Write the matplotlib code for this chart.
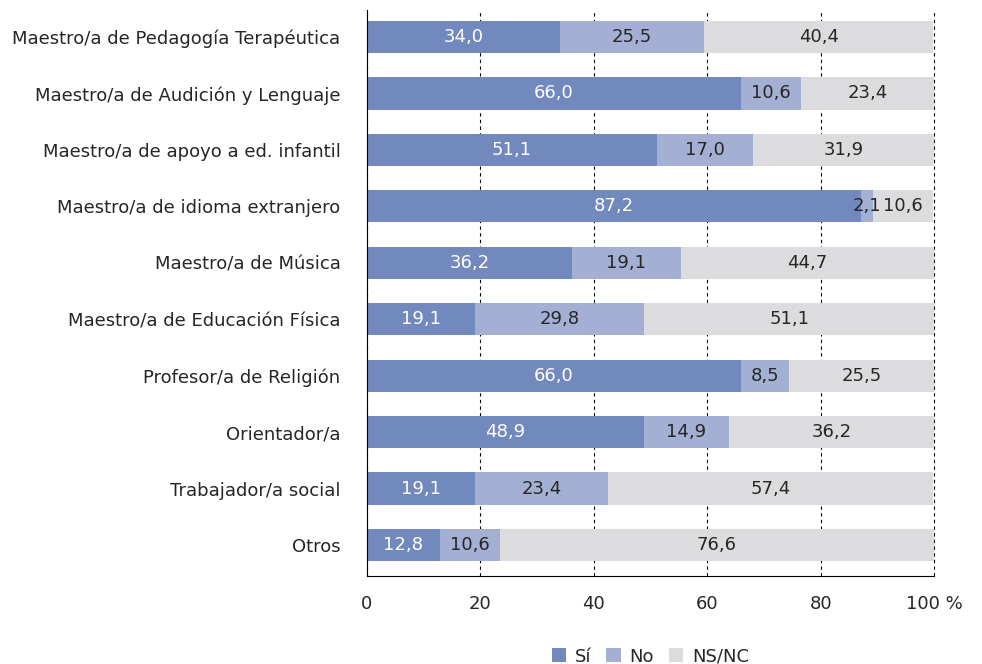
import matplotlib.pyplot as plt
import numpy as np

categories = ['Maestro/a de Pedagogía Terapéutica', 'Maestro/a de Audición y Lenguaje',
              'Maestro/a de apoyo a ed. infantil', 'Maestro/a de idioma extranjero',
              'Maestro/a de Música', 'Maestro/a de Educación Física', 'Profesor/a de Religión',
              'Orientador/a', 'Trabajador/a social', 'Otros']
si = [34.0, 66.0, 51.1, 87.2, 36.2, 19.1, 66.0, 48.9, 19.1, 12.8]
no = [25.5, 10.6, 17.0, 2.1, 19.1, 29.8, 8.5, 14.9, 23.4, 10.6]
nsnc = [40.4, 23.4, 31.9, 10.6, 44.7, 51.1, 25.5, 36.2, 57.4, 76.6]
series_names = ['Sí', 'No', 'NS/NC']
xticks = [0, 20, 40, 60, 80, 100]
xtick_labels = ['0', '20', '40', '60', '80', '100 %']

colors = ['#7189bd', '#a3b0d3', '#dcdcde']
text_colors = ['white', '#262626', '#262626']

fig = plt.figure(figsize=(9.82, 6.64), dpi=100)
ax = fig.add_axes([0.3737, 0.1325, 0.5774, 0.8525])

y = np.arange(len(categories))
left = np.zeros(len(categories))
for vals, name, c, tc in zip([si, no, nsnc], series_names, colors, text_colors):
    vals = np.array(vals)
    ax.barh(y, vals, left=left, height=0.57, color=c, label=name, zorder=2)
    for yi, l, v in zip(y, left, vals):
        txt = f'{v:.1f}'.replace('.', ',')
        ax.text(l + v / 2, yi, txt, ha='center', va='center', color=tc, fontsize=13, zorder=3)
    left += vals

ax.set_xlim(0, 100)
ax.set_ylim(9.55, -0.48)
ax.set_yticks(y)
ax.set_yticklabels(categories, fontsize=13, color='#262626')
ax.set_xticks(xticks)
ax.set_xticklabels(xtick_labels, fontsize=13, color='#262626')
ax.tick_params(axis='y', length=0, pad=19)
ax.tick_params(axis='x', length=0, pad=14)
ax.grid(axis='x', color='black', linestyle=(0, (3, 3)), linewidth=0.8, zorder=0)
for gl in ax.get_xgridlines():
    gl.set_clip_on(False)
for s in ['top', 'right']:
    ax.spines[s].set_visible(False)

ax.legend(loc='lower center', bbox_to_anchor=(0.5, -0.187), bbox_transform=ax.transAxes,
          ncol=3, frameon=False, fontsize=13, handlelength=0.8, handleheight=0.8,
          handletextpad=0.5, columnspacing=0.8, labelcolor='#262626')

fig.savefig('out.png', dpi=100)
